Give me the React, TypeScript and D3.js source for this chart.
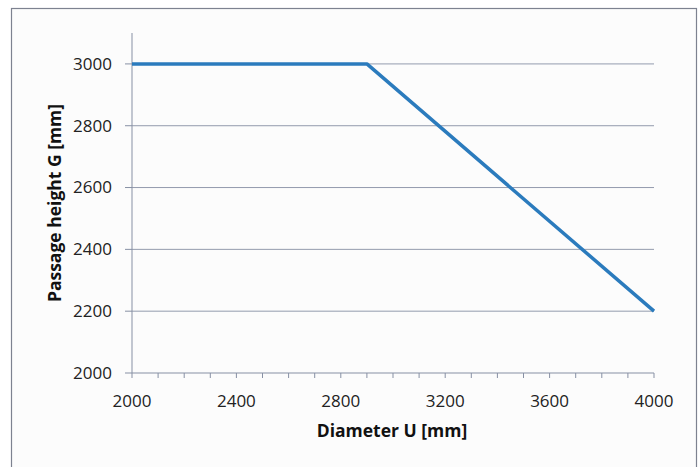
import React, { useRef, useEffect } from "react";
import * as d3 from "d3";

// Passage height G vs diameter U
const diameters = [2000, 2900, 4000];
const heights = [3000, 3000, 2200];
const xMajorTicks = [2000, 2400, 2800, 3200, 3600, 4000];
const xMinorTicks = d3.range(2000, 4001, 100);
const yTicks = [2000, 2200, 2400, 2600, 2800, 3000];

const App: React.FC = () => {
    const svgRef = useRef<SVGSVGElement>(null);

    useEffect(() => {
        const svgEl = svgRef.current;
        if (!svgEl) return;

        const width = 698;
        const height = 467;
        const plot = { left: 132, right: 654, top: 33, bottom: 373 };

        const svg = d3.select(svgEl);
        svg.selectAll("*").remove();

        svg.append("rect").attr("width", width).attr("height", height).attr("fill", "#ffffff");

        // chart frame
        svg.append("rect")
            .attr("x", 11.5)
            .attr("y", 8.5)
            .attr("width", 685)
            .attr("height", 470)
            .attr("fill", "#fcfcfc")
            .attr("stroke", "#7d8290")
            .attr("stroke-width", 1.2);

        const x = d3.scaleLinear().domain([2000, 4000]).range([plot.left, plot.right]);
        const y = d3.scaleLinear().domain([2000, 3100]).range([plot.bottom, plot.top]);

        const font = "'Open Sans', 'DejaVu Sans', sans-serif";
        const gridColor = "#8790a4";

        // horizontal gridlines
        svg.append("g")
            .selectAll("line")
            .data(yTicks.filter((d) => d > 2000))
            .join("line")
            .attr("x1", plot.left)
            .attr("x2", plot.right)
            .attr("y1", (d) => y(d))
            .attr("y2", (d) => y(d))
            .attr("stroke", gridColor)
            .attr("stroke-width", 0.9);

        // y axis
        const yAxis = svg.append("g").attr("transform", `translate(${plot.left},0)`);
        yAxis.append("line")
            .attr("y1", plot.top)
            .attr("y2", plot.bottom)
            .attr("stroke", gridColor)
            .attr("stroke-width", 1);
        yAxis.selectAll("line.tick")
            .data(yTicks)
            .join("line")
            .attr("class", "tick")
            .attr("x1", -7)
            .attr("x2", 0)
            .attr("y1", (d) => y(d))
            .attr("y2", (d) => y(d))
            .attr("stroke", gridColor);
        yAxis.selectAll("text")
            .data(yTicks)
            .join("text")
            .attr("x", -20)
            .attr("y", (d) => y(d))
            .attr("dy", "0.35em")
            .attr("text-anchor", "end")
            .attr("font-family", font)
            .attr("font-size", 17)
            .attr("fill", "#222")
            .text((d) => d);

        // x axis
        const xAxis = svg.append("g").attr("transform", `translate(0,${plot.bottom})`);
        xAxis.append("line")
            .attr("x1", plot.left)
            .attr("x2", plot.right)
            .attr("stroke", gridColor)
            .attr("stroke-width", 1);
        xAxis.selectAll("line.tick")
            .data(xMinorTicks)
            .join("line")
            .attr("class", "tick")
            .attr("x1", (d) => x(d))
            .attr("x2", (d) => x(d))
            .attr("y1", 0)
            .attr("y2", 5)
            .attr("stroke", gridColor);
        xAxis.selectAll("text")
            .data(xMajorTicks)
            .join("text")
            .attr("x", (d) => x(d))
            .attr("y", 34)
            .attr("text-anchor", "middle")
            .attr("font-family", font)
            .attr("font-size", 17)
            .attr("fill", "#222")
            .text((d) => d);

        // axis titles
        svg.append("text")
            .attr("x", 392)
            .attr("y", 437)
            .attr("text-anchor", "middle")
            .attr("font-family", font)
            .attr("font-weight", "bold")
            .attr("font-size", 17.5)
            .attr("fill", "#111")
            .text("Diameter U [mm]");

        svg.append("text")
            .attr("transform", `translate(61,203) rotate(-90)`)
            .attr("text-anchor", "middle")
            .attr("font-family", font)
            .attr("font-weight", "bold")
            .attr("font-size", 17.5)
            .attr("fill", "#111")
            .text("Passage height G [mm]");

        // data line
        const pts = diameters.map((d, i) => [d, heights[i]] as [number, number]);
        const line = d3
            .line<[number, number]>()
            .x((d) => x(d[0]))
            .y((d) => y(d[1]));
        svg.append("path")
            .datum(pts)
            .attr("d", line)
            .attr("fill", "none")
            .attr("stroke", "#2b7bbd")
            .attr("stroke-width", 3.5)
            .attr("stroke-linejoin", "round");
    }, []);

    return (
        <svg
            ref={svgRef}
            width={698}
            height={467}
            style={{ position: "absolute", left: 0, top: 0, display: "block" }}
        ></svg>
    );
};

export default App;
